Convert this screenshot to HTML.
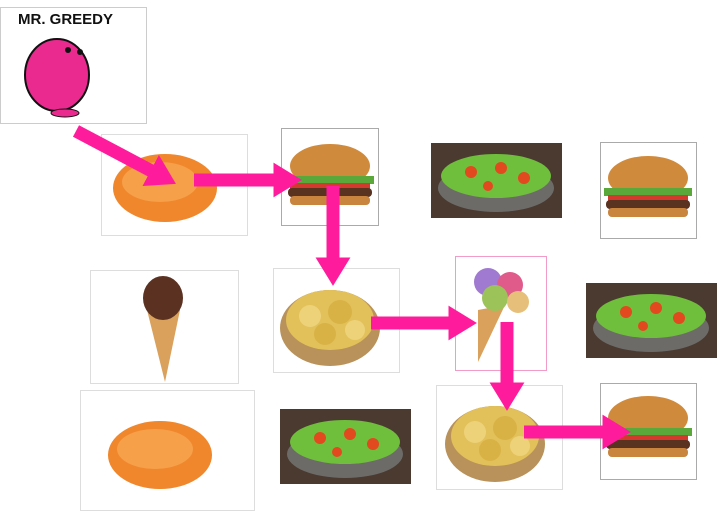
<!DOCTYPE html>
<html><head><meta charset="utf-8"><style>
html,body{margin:0;padding:0;background:#fff;width:727px;height:517px;overflow:hidden;font-family:"Liberation Sans",sans-serif}
svg{display:block}
</style></head><body>
<svg width="727" height="517" viewBox="0 0 727 517">
<defs>
<g id="burger">
<ellipse cx="0" cy="-14" rx="40" ry="22" fill="#d08a3c"/>
<rect x="-44" y="-4" width="88" height="8" fill="#5aa83a"/>
<rect x="-40" y="3" width="80" height="6" fill="#d3392c"/>
<rect x="-42" y="8" width="84" height="9" rx="4" fill="#5a3220"/>
<rect x="-40" y="16" width="80" height="9" rx="4" fill="#c9843d"/>
</g>
<g id="salad">
<rect x="-65" y="-37" width="131" height="75" fill="#4a3a30"/>
<ellipse cx="0" cy="8" rx="58" ry="24" fill="#6d6b68"/>
<ellipse cx="0" cy="-4" rx="55" ry="22" fill="#6fbf3c"/>
<circle cx="-25" cy="-8" r="6" fill="#e3491e"/><circle cx="5" cy="-12" r="6" fill="#e3491e"/>
<circle cx="28" cy="-2" r="6" fill="#e3491e"/><circle cx="-8" cy="6" r="5" fill="#e3491e"/>
</g>
<g id="chips">
<ellipse cx="0" cy="6" rx="50" ry="38" fill="#b8925a"/>
<ellipse cx="0" cy="-2" rx="44" ry="30" fill="#e2c15a"/>
<circle cx="-20" cy="-6" r="11" fill="#edd27a"/><circle cx="10" cy="-10" r="12" fill="#d9b246"/>
<circle cx="25" cy="8" r="10" fill="#edd27a"/><circle cx="-5" cy="12" r="11" fill="#d9b246"/>
</g>
<g id="carrot">
<ellipse cx="0" cy="0" rx="52" ry="34" fill="#f0872c"/>
<ellipse cx="-5" cy="-6" rx="38" ry="20" fill="#f6a04a"/>
</g>
<marker id="ah" markerWidth="2.2" markerHeight="2.7" refX="0.9" refY="1.35" orient="auto" markerUnits="strokeWidth">
<path d="M0,0 L2.2,1.35 L0,2.7 Z" fill="#ff1c9c"/></marker>
</defs>

<g>
<rect x="0.5" y="7.5" width="146" height="116" fill="#fff" stroke="#ccc"/>
<text x="18" y="24" font-size="15" font-weight="bold" fill="#111">MR. GREEDY</text>
<ellipse cx="57" cy="75" rx="32" ry="36" fill="#ea2a8e" stroke="#111" stroke-width="2"/>
<circle cx="68" cy="50" r="3" fill="#111"/><circle cx="80" cy="52" r="3" fill="#111"/>
<ellipse cx="65" cy="113" rx="14" ry="4" fill="#ea2a8e" stroke="#111"/>
</g>
<g><rect x="101.5" y="134.5" width="146" height="101" fill="#fff" stroke="#ddd"/><use href="#carrot" x="165" y="188"/></g>
<g><rect x="281.5" y="128.5" width="97" height="97" fill="#fff" stroke="#aaa"/><use href="#burger" x="330" y="180"/></g>
<g><use href="#salad" x="496" y="180"/></g>
<g><rect x="600.5" y="142.5" width="96" height="96" fill="#fff" stroke="#aaa"/><use href="#burger" x="648" y="192"/></g>
<g><rect x="90.5" y="270.5" width="148" height="113" fill="#fff" stroke="#ddd"/>
<polygon points="147,310 180,310 165,382" fill="#d9a15c"/><ellipse cx="163" cy="298" rx="20" ry="22" fill="#5b3222"/></g>
<g><rect x="273.5" y="268.5" width="126" height="104" fill="#fff" stroke="#ddd"/><use href="#chips" x="330" y="322"/></g>
<g><rect x="455.5" y="256.5" width="91" height="114" fill="#fff" stroke="#f29ac8"/>
<polygon points="478,310 505,305 478,362" fill="#d9a15c"/>
<circle cx="488" cy="282" r="14" fill="#a07ad0"/><circle cx="510" cy="285" r="13" fill="#e05a8a"/><circle cx="495" cy="298" r="13" fill="#9cc25a"/><circle cx="518" cy="302" r="11" fill="#e6c07a"/></g>
<g><use href="#salad" x="651" y="320"/></g>
<g><rect x="80.5" y="390.5" width="174" height="120" fill="#fff" stroke="#ddd"/><use href="#carrot" x="160" y="455"/></g>
<g><use href="#salad" x="345" y="446"/></g>
<g><rect x="436.5" y="385.5" width="126" height="104" fill="#fff" stroke="#ddd"/><use href="#chips" x="495" y="438"/></g>
<g><rect x="600.5" y="383.5" width="96" height="96" fill="#fff" stroke="#aaa"/><use href="#burger" x="648" y="432"/></g>

<g stroke="#ff1c9c" stroke-width="13" fill="none">
<line x1="76" y1="131" x2="161" y2="176" marker-end="url(#ah)"/>
<line x1="194" y1="180" x2="285" y2="180" marker-end="url(#ah)"/>
<line x1="333" y1="186" x2="333" y2="269" marker-end="url(#ah)"/>
<line x1="371" y1="323" x2="460" y2="323" marker-end="url(#ah)"/>
<line x1="507" y1="322" x2="507" y2="394" marker-end="url(#ah)"/>
<line x1="524" y1="432" x2="614" y2="432" marker-end="url(#ah)"/>
</g>
</svg>
</body></html>
